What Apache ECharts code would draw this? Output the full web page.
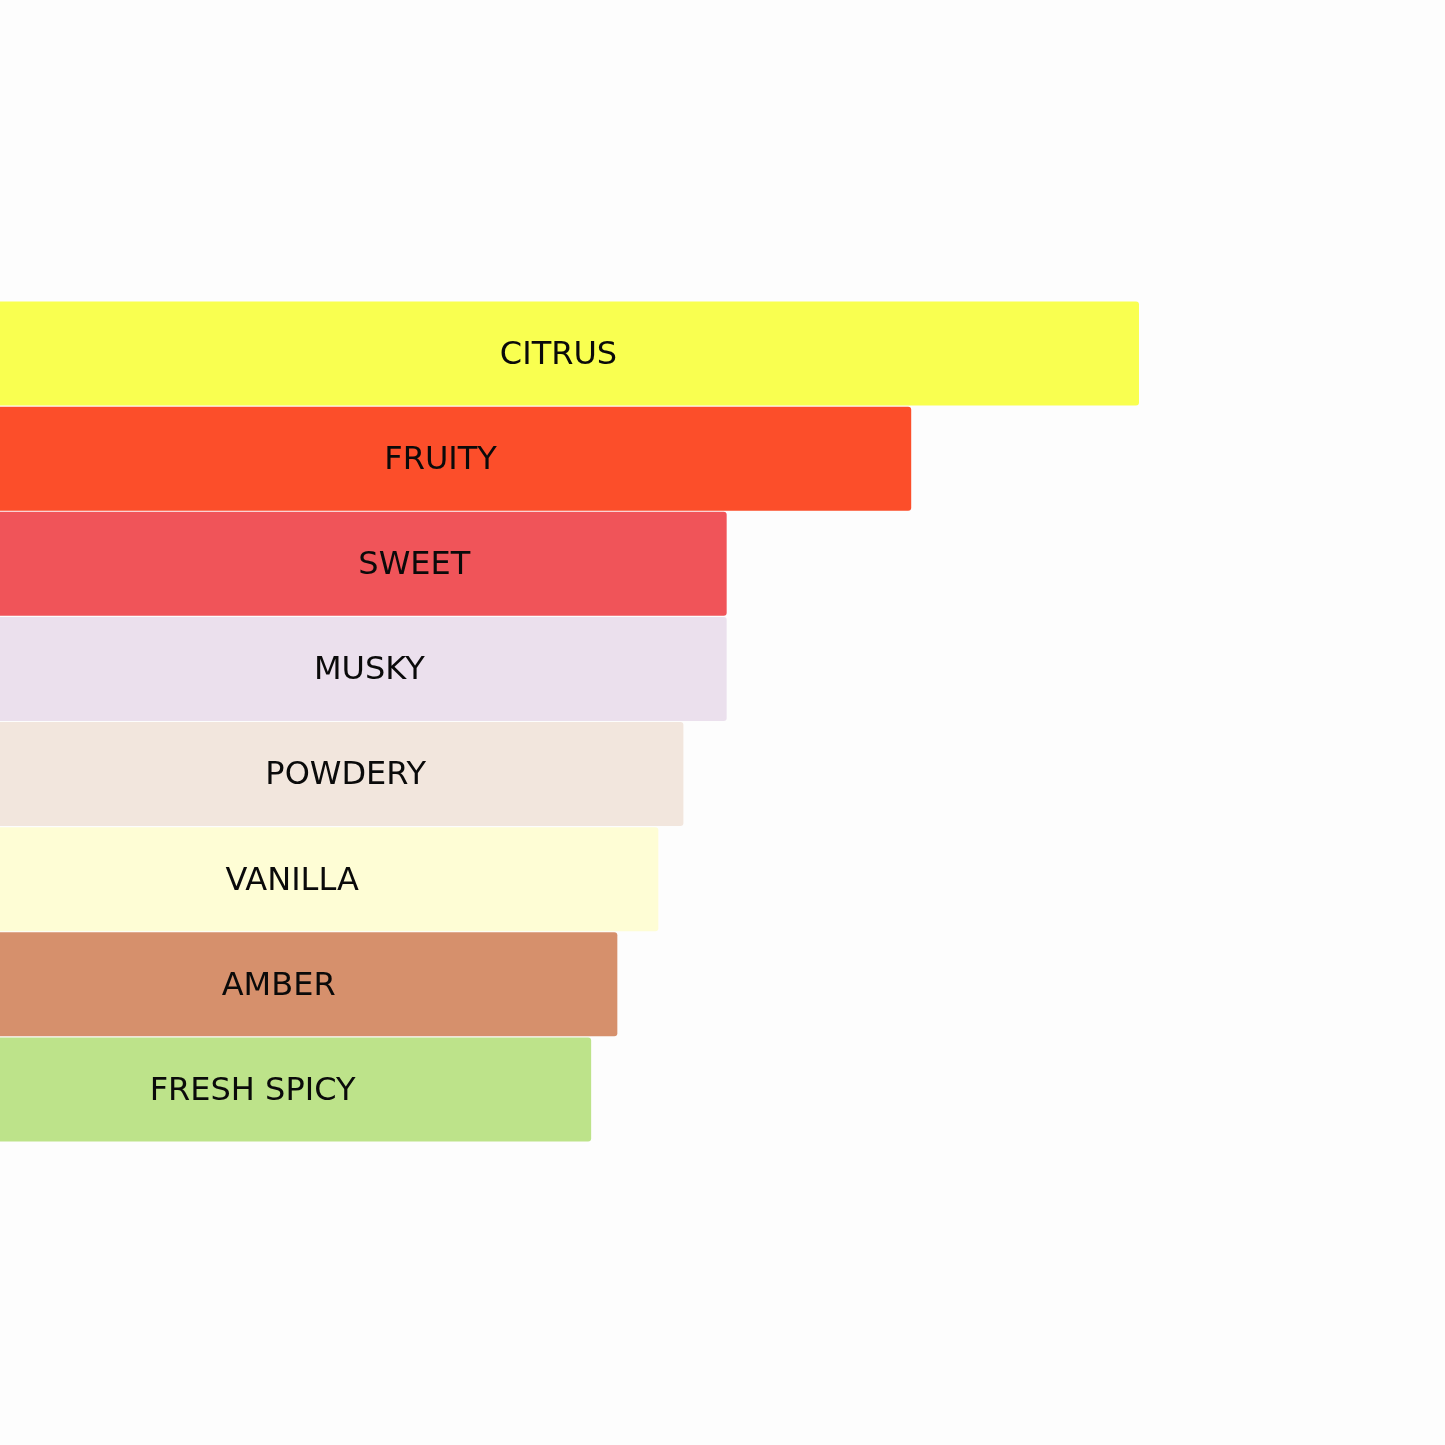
<!DOCTYPE html>
<html>
<head>
<meta charset="utf-8">
<script src="https://cdn.jsdelivr.net/npm/echarts@6/dist/echarts.min.js"></script>
<style>
  html, body { margin: 0; padding: 0; background: #fdfdfd; }
  #chart { width: 1445px; height: 1445px; }
</style>
</head>
<body>
<div id="chart"></div>
<script>
var accords = ['CITRUS', 'FRUITY', 'SWEET', 'MUSKY', 'POWDERY', 'VANILLA', 'AMBER', 'FRESH SPICY'];
var strength = [100, 80, 63.8, 63.8, 60, 57.8, 54.2, 51.9];
var barColors = ['#f9ff50', '#fc4e2a', '#f05459', '#ebe0ed', '#f2e6dd', '#fefdd5', '#d6906c', '#bde38a'];
// label shift from bar centre, px
var labelShift = [-11, -15, 51, 6, 4, -37, -30, -43];

var chart = echarts.init(document.getElementById('chart'));

var option = {
    backgroundColor: '#fdfdfd',
    animation: false,
    grid: {
        left: 0,
        right: 306,
        top: 301,
        bottom: 303
    },
    xAxis: {
        type: 'value',
        min: 0,
        max: 100,
        show: false
    },
    yAxis: {
        type: 'category',
        data: accords,
        inverse: true,
        show: false
    },
    series: [
        {
            type: 'bar',
            barCategoryGap: '1%',
            data: strength.map(function (v, i) {
                return {
                    value: v,
                    itemStyle: { color: barColors[i] },
                    label: { offset: [labelShift[i], 2] }
                };
            }),
            itemStyle: {
                borderRadius: [0, 3, 3, 0]
            },
            label: {
                show: true,
                position: 'inside',
                formatter: function (p) { return p.name; },
                fontFamily: 'DejaVu Sans',
                fontSize: 32,
                color: '#0a0a0a'
            }
        }
    ]
};

chart.setOption(option);
window.onresize = function () { chart.resize(); };
</script>
</body>
</html>
